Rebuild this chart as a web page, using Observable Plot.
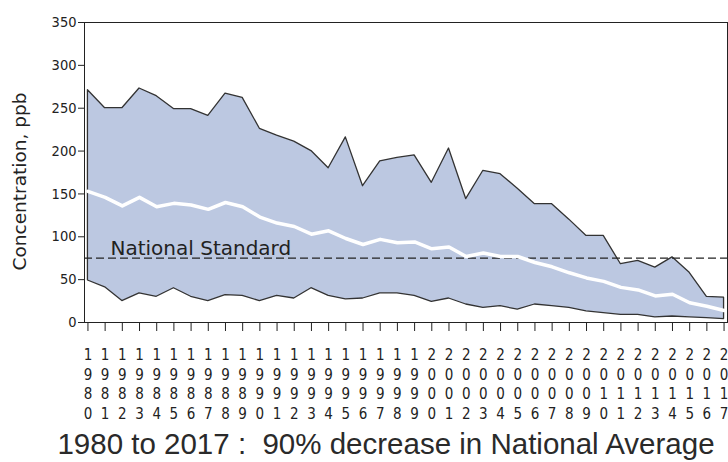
<!DOCTYPE html>
<html><head><meta charset="utf-8">
<script src="https://cdn.jsdelivr.net/npm/d3@7"></script>
<script src="https://cdn.jsdelivr.net/npm/@observablehq/plot@0.6"></script>
<style>body{margin:0;background:#fff}</style>
</head><body><div id="chart"></div>
<script>
const years = [1980,1981,1982,1983,1984,1985,1986,1987,1988,1989,1990,1991,1992,1993,1994,1995,1996,1997,1998,1999,2000,2001,2002,2003,2004,2005,2006,2007,2008,2009,2010,2011,2012,2013,2014,2015,2016,2017];
const p90 = [271,250,250,273,264,249,249,241,267,262,226,218,211,200,180,216,159,188,192,195,163,203,144,177,173,156,138,138,120,101,101,68,72,64,76,58,30,29];
const p10 = [49,41,25,34,30,40,30,25,32,31,25,31,28,40,31,27,28,34,34,31,24,28,21,17,19,15,21,19,17,13,11,9,9,6,7,6,5,4];
const avg = [153,146,136,146,135,139,137,132,140,135,123,116,112,103,107,98,91,97,93,94,86,88,77,81,77,77,70,65,58,52,48,41,38,31,33,23,19,14];
const standard = 75;
const yTicks = [0,50,100,150,200,250,300,350];
const yLabel = "Concentration, ppb";
const standardLabel = "National Standard";
const caption = "1980 to 2017 :  90% decrease in National Average";

const data = years.map((year, i) => ({year, low: p10[i], high: p90[i], mean: avg[i]}));
const narrow = "'Liberation Sans Narrow', 'DejaVu Sans Condensed', 'Liberation Sans', sans-serif";

const chart = Plot.plot({
  width: 728, height: 462,
  marginTop: 22, marginBottom: 140, marginLeft: 84, marginRight: 1,
  x: {domain: [1979.8, 2017.2]},
  y: {domain: [0, 350]},
  style: {fontFamily: "'DejaVu Sans', sans-serif", background: "white", color: "#222"},
  marks: [
    Plot.areaY(data, {x: "year", y1: "low", y2: "high", fill: "#bcc8e1", stroke: "#333", strokeWidth: 1.3}),
    Plot.ruleY([standard], {stroke: "#222", strokeDasharray: "8,4", strokeWidth: 1.3}),
    Plot.lineY(data, {x: "year", y: "mean", stroke: "white", strokeWidth: 3.5}),
    Plot.text([standard], {y: d => d, text: () => standardLabel, frameAnchor: "left", textAnchor: "start", lineAnchor: "bottom", dx: 26, dy: -3, fontSize: 20, fill: "#222"}),
    Plot.frame({stroke: "#222"}),
    Plot.axisY({ticks: yTicks, tickSize: 6, tickPadding: 2, label: null, fontSize: 14.5, fontFamily: narrow}),
    Plot.axisX({ticks: years, tickSize: 9, tickPadding: 15, tickFormat: d => String(d).split("").join("\n"), lineHeight: 1.3, fontSize: 15, fontFamily: narrow, label: null}),
    Plot.text([yLabel], {text: d => d, frameAnchor: "left", textAnchor: "middle", rotate: -90, dx: -64, dy: 9, fontSize: 18.5, fill: "#222"}),
    Plot.text([caption], {text: d => d, frameAnchor: "bottom", textAnchor: "middle", dx: -20, dy: 131, fontSize: 29.5, fontFamily: "'Liberation Sans', sans-serif", fill: "#2a2a2a"})
  ]
});
document.getElementById("chart").append(chart);
</script>
</body></html>
